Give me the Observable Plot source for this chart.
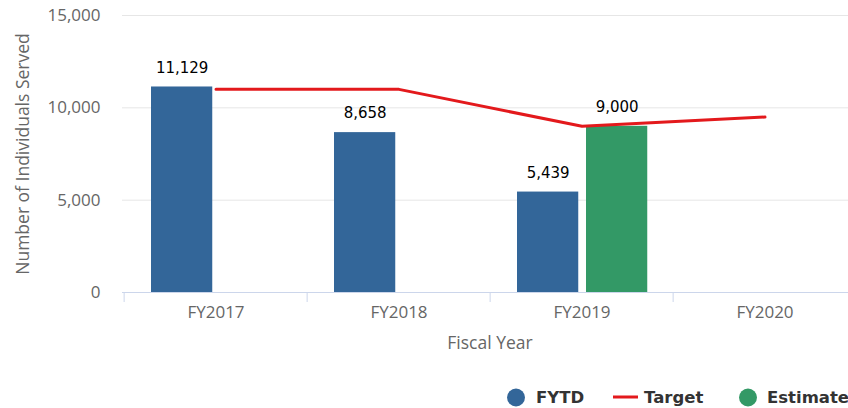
<!DOCTYPE html>
<html>
<head>
<meta charset="utf-8">
<script src="https://cdn.jsdelivr.net/npm/d3@7"></script>
<script src="https://cdn.jsdelivr.net/npm/@observablehq/plot@0.6"></script>
<style>
  html, body { margin: 0; padding: 0; background: #fff; overflow: hidden; width: 848px; height: 408px; }
  #chart { position: relative; width: 848px; height: 408px; overflow: hidden; }
  #chart svg { max-width: none !important; }
  .lg { position: absolute; top: 397px; transform: translateY(-50%); display: flex; align-items: center;
    font-family: "DejaVu Sans", sans-serif; font-weight: bold; font-size: 16.5px; color: #333; white-space: nowrap; }
  .dot { width: 18px; height: 18px; border-radius: 50%; }
  .ln { width: 25px; height: 3px; }
</style>
</head>
<body>
<div id="chart"></div>
<script>
const years = ["FY2017", "FY2018", "FY2019", "FY2020"];
const fytd = [11129, 8658, 5439, null];
const estimate = [null, null, 9000, null];
const target = [11000, 11000, 9000, 9500];

const blue = "#336699", green = "#339966", red = "#e3191c";

const fytdData = years.map((y, i) => ({year: y, value: fytd[i]})).filter(d => d.value != null);
const estData = years.map((y, i) => ({year: y, value: estimate[i]})).filter(d => d.value != null);
const targetData = years.map((y, i) => ({year: y, value: target[i]}));

const W = 857, ML = 122, MR = 0;
const band = (W - ML - MR) / years.length;
const half = band / 2;
const fmt = d3.format(",");

const plot = Plot.plot({
  width: W, height: 362,
  marginLeft: ML, marginRight: MR, marginTop: 15, marginBottom: 70,
  style: {fontFamily: "'Open Sans', sans-serif", color: "#666", background: "#fff", overflow: "visible"},
  x: {domain: years, padding: 0},
  y: {domain: [0, 15000]},
  marks: [
    Plot.gridY([5000, 10000, 15000], {stroke: "#e6e6e6", strokeOpacity: 1}),
    Plot.axisY([0, 5000, 10000, 15000], {tickSize: 0, tickPadding: 22, fontSize: 17, tickFormat: fmt, label: null}),
    Plot.axisY({ticks: [], tickSize: 0, fontSize: 17.5,
      label: "Number of Individuals Served", labelAnchor: "center", labelArrow: "none", labelOffset: 106}),
    Plot.barY(fytdData, {x: "year", y: "value", fill: blue, insetLeft: 27, insetRight: band - 89}),
    Plot.barY(estData, {x: "year", y: "value", fill: green, insetLeft: 96, insetRight: band - 158}),
    Plot.ruleY([0], {stroke: "#ccd6eb"}),
    Plot.axisX({tickSize: 10, tickFormat: () => "", stroke: "#ccd6eb", strokeOpacity: 1, dx: -half, label: null}),
    Plot.axisX({tickSize: 0, tickPadding: 13, fontSize: 17, label: null}),
    Plot.axisX({ticks: [], tickSize: 0, fontSize: 17.5,
      label: "Fiscal Year", labelAnchor: "center", labelArrow: "none", labelOffset: 56}),
    Plot.line(targetData, {x: "year", y: "value", stroke: red, strokeWidth: 3}),
    Plot.text(fytdData, {x: "year", y: "value", text: d => fmt(d.value), dx: 58 - half, dy: -19,
      fill: "#000", fontSize: 15, fontFamily: "'DejaVu Sans', sans-serif"}),
    Plot.text(estData, {x: "year", y: "value", text: d => fmt(d.value), dx: 127 - half, dy: -19,
      fill: "#000", fontSize: 15, fontFamily: "'DejaVu Sans', sans-serif"})
  ]
});
const chart = document.getElementById("chart");
chart.appendChild(plot);

const items = [
  {left: 507, html: `<div class="dot" style="background:${blue}"></div><span style="margin-left:11px">FYTD</span>`},
  {left: 613, html: `<div class="ln" style="background:${red}"></div><span style="margin-left:6px">Target</span>`},
  {left: 739, html: `<div class="dot" style="background:${green}"></div><span style="margin-left:10px">Estimate</span>`}
];
for (const it of items) {
  const el = document.createElement("div");
  el.className = "lg";
  el.style.left = it.left + "px";
  el.innerHTML = it.html;
  chart.appendChild(el);
}
</script>
</body>
</html>
